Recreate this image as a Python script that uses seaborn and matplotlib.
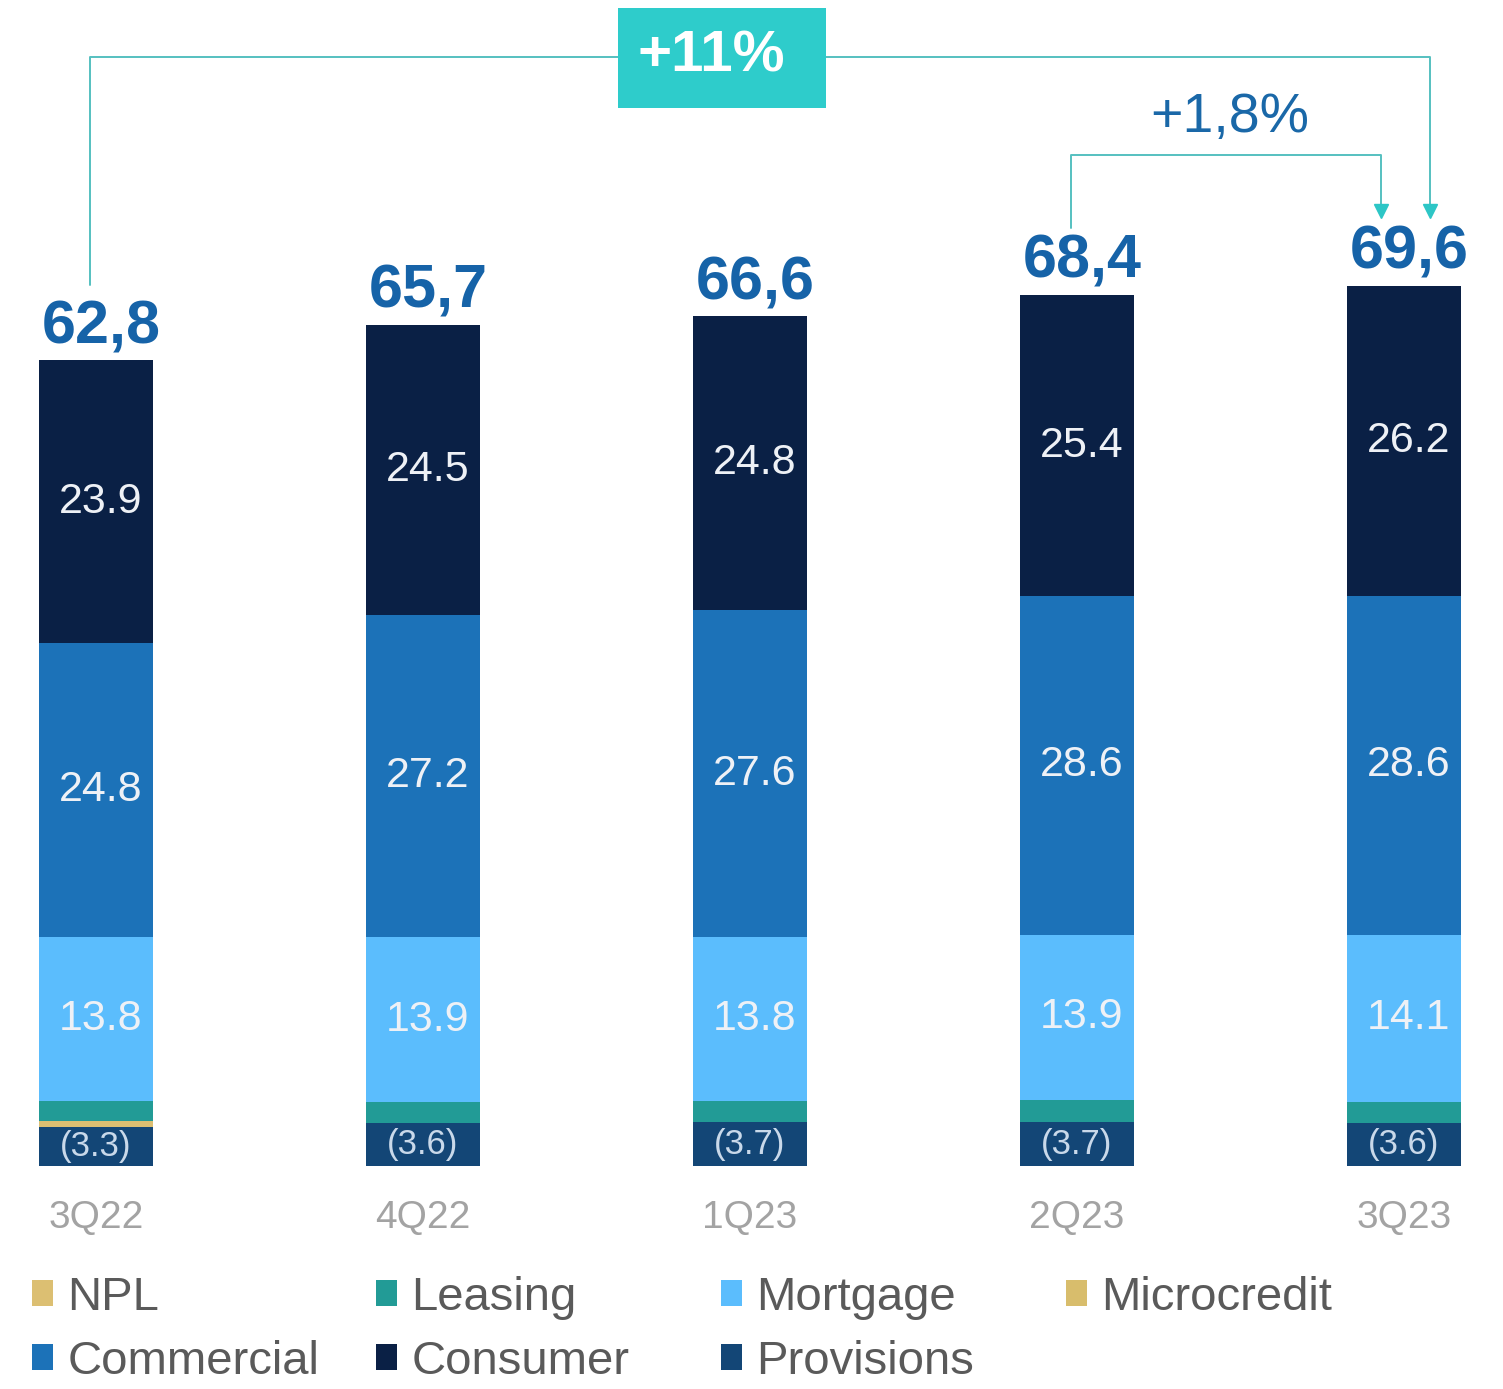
import numpy as np
import pandas as pd
import matplotlib
matplotlib.use("Agg")
import matplotlib.pyplot as plt
import seaborn as sns
from matplotlib.patches import Patch, Rectangle

# ---------------- data ----------------
quarters = ["3Q22", "4Q22", "1Q23", "2Q23", "3Q23"]
provisions = [3.3, 3.6, 3.7, 3.7, 3.6]
npl = [0.5, 0.0, 0.0, 0.0, 0.0]
microcredit = [0.0, 0.0, 0.0, 0.0, 0.0]
leasing = [1.7, 1.8, 1.8, 1.9, 1.8]
mortgage = [13.8, 13.9, 13.8, 13.9, 14.1]
commercial = [24.8, 27.2, 27.6, 28.6, 28.6]
consumer = [23.9, 24.5, 24.8, 25.4, 26.2]
total_labels = ["62,8", "65,7", "66,6", "68,4", "69,6"]
change_year = "+11%"
change_quarter = "+1,8%"

# ---------------- style ----------------
sns.set_theme(style="white")
plt.rcParams['font.family'] = ['Liberation Sans', 'DejaVu Sans']

colors = {
    "Provisions": "#134676",
    "NPL": "#dcbf72",
    "Microcredit": "#d8bd6c",
    "Leasing": "#229b96",
    "Mortgage": "#5bbdfd",
    "Commercial": "#1c72b8",
    "Consumer": "#0a2045",
}
layers = [("Provisions", provisions), ("NPL", npl), ("Microcredit", microcredit),
          ("Leasing", leasing), ("Mortgage", mortgage), ("Commercial", commercial),
          ("Consumer", consumer)]

df = pd.DataFrame({"quarter": quarters})
cum = np.zeros(len(quarters))
bottoms = {}
for name, vals in layers:
    bottoms[name] = cum.copy()
    cum = cum + np.array(vals)
    df[name] = cum

W, H = 1503, 1389
fig = plt.figure(figsize=(W / 100, H / 100), dpi=100)
ax = fig.add_axes([0, 0, 1, 1])

# stacked bars via overlapping cumulative seaborn bars (top layer first)
for name, _ in reversed(layers):
    sns.barplot(data=df, x="quarter", y=name, color=colors[name], saturation=1,
                width=0.346, linewidth=0, errorbar=None, ax=ax, zorder=2)

# pixel mapping
px_per_unit = 11.85
base_px = 1166
x0_px, dx_px = 96, 327
xlim = (-x0_px / dx_px, (W - x0_px) / dx_px)
ylim = (-(H - base_px) / px_per_unit, base_px / px_per_unit)
ax.set_xlim(*xlim)
ax.set_ylim(*ylim)
ax.axis("off")


def px2d(px, py):
    return ((px - x0_px) / dx_px, (base_px - py) / px_per_unit)


# segment labels
for i in range(len(quarters)):
    for name, vals in [("Consumer", consumer), ("Commercial", commercial), ("Mortgage", mortgage)]:
        yc = bottoms[name][i] + vals[i] / 2
        ax.text(i + 0.015, yc, f"{vals[i]:.1f}", ha="center", va="center",
                fontsize=31, color="#eef1f6", zorder=5)
    ax.text(i + 0.0, provisions[i] / 2, f"({provisions[i]:.1f})", ha="center", va="center",
            fontsize=25, color="#c9d9ea", zorder=5)
    # totals
    ax.annotate(total_labels[i], xy=(i + 0.015, df["Consumer"][i]), xytext=(0, 3),
                textcoords="offset points", ha="center", va="bottom",
                fontsize=44, fontweight="bold", color="#1663a8", zorder=5)
    # category labels
    ax.text(i, px2d(0, 1218)[1], quarters[i], ha="center", va="center",
            fontsize=28, color="#a3a3a3")

# change brackets
line_c = "#55c0c0"
pts = [px2d(90, 285), px2d(90, 57), px2d(1430, 57), px2d(1430, 208)]
ax.plot([p[0] for p in pts], [p[1] for p in pts], color=line_c, lw=1.4, zorder=3)
ax.plot(*px2d(1430, 211), marker="v", markersize=10, color="#2dc6c6", zorder=4)

pts2 = [px2d(1071, 228), px2d(1071, 155), px2d(1381, 155), px2d(1381, 208)]
ax.plot([p[0] for p in pts2], [p[1] for p in pts2], color=line_c, lw=1.4, zorder=3)
ax.plot(*px2d(1381, 211), marker="v", markersize=10, color="#2dc6c6", zorder=4)

bl = px2d(618, 108)
tr = px2d(826, 8)
ax.add_patch(Rectangle(bl, tr[0] - bl[0], tr[1] - bl[1], facecolor="#2ecccb",
                       edgecolor="none", zorder=4))
ax.text(*px2d(711, 57), change_year, ha="center", va="center", fontsize=42,
        fontweight="bold", color="white", zorder=5)
ax.text(*px2d(1230, 118), change_quarter, ha="center", va="center", fontsize=40,
        color="#1a68a8", zorder=5)

# legend (four columns)
columns = [["NPL", "Commercial"], ["Leasing", "Consumer"], ["Mortgage", "Provisions"], ["Microcredit"]]
col_x = [32, 376, 721, 1066]
for names, cx in zip(columns, col_x):
    handles = [Patch(facecolor=colors[n], edgecolor="none", label=n) for n in names]
    fig.legend(handles=handles, loc="upper left",
               bbox_to_anchor=(cx / W, 1 - 1276 / H), bbox_transform=fig.transFigure,
               frameon=False, fontsize=34, handlelength=0.45, handleheight=0.45,
               handletextpad=0.3, labelspacing=0.42, borderpad=0, borderaxespad=0,
               labelcolor="#5a5a5a")

fig.savefig("out.png", dpi=100)
